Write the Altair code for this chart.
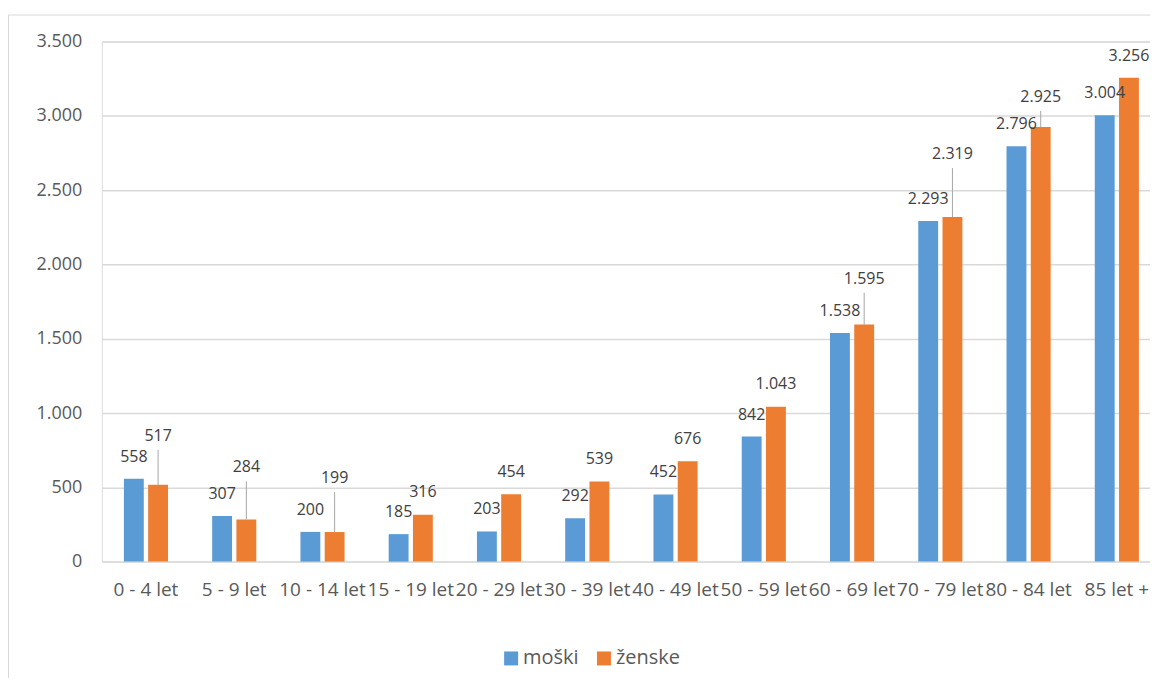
import altair as alt
import pandas as pd

# ---------------- data ----------------
categories = ["0 - 4 let", "5 - 9 let", "10 - 14 let", "15 - 19 let", "20 - 29 let",
              "30 - 39 let", "40 - 49 let", "50 - 59 let", "60 - 69 let", "70 - 79 let",
              "80 - 84 let", "85 let +"]
series = ["moški", "ženske"]
moski = [558, 307, 200, 185, 203, 292, 452, 842, 1538, 2293, 2796, 3004]
zenske = [517, 284, 199, 316, 454, 539, 676, 1043, 1595, 2319, 2925, 3256]
y_ticks = [0, 500, 1000, 1500, 2000, 2500, 3000, 3500]

# ---------------- styling ----------------
PLOT_W = 1050
PLOT_H = 521
Y_MAX = 3500
PX = Y_MAX / PLOT_H            # data units per pixel
BLUE = "#5B9BD5"
ORANGE = "#ED7D31"
FONT = "Open Sans"

# label lift (pixels above bar top) and leader-line flags for the female labels
male_lift = 22
female_lift = [49, 52, 54, 23, 22, 23, 22, 23, 46, 63, 30, 22]
female_leader = [True, True, True, False, False, False, False, False, True, True, True, False]


def fmt(v):
    return f"{v:,}".replace(",", ".")


rows = []
for i, c in enumerate(categories):
    rows.append({"category": c, "series": series[0], "value": moski[i],
                 "label": fmt(moski[i]), "label_y": moski[i] + male_lift * PX,
                 "leader": False, "leader_top": moski[i]})
    rows.append({"category": c, "series": series[1], "value": zenske[i],
                 "label": fmt(zenske[i]), "label_y": zenske[i] + female_lift[i] * PX,
                 "leader": female_leader[i],
                 "leader_top": zenske[i] + (female_lift[i] - 14) * PX})
df = pd.DataFrame(rows)
df_leader = df[df["leader"]].copy()

x_enc = alt.X("category:N", sort=categories,
              scale=alt.Scale(domain=categories, range=[0, 1061], paddingInner=0.5, paddingOuter=0.25),
              axis=alt.Axis(title=None, labelAngle=0, ticks=False, domain=False,
                            labelFont=FONT, labelFontSize=19, labelColor="#595959",
                            labelPadding=19, labelOverlap=False, labelLimit=0))
xo_enc = alt.XOffset("series:N", scale=alt.Scale(domain=series, paddingInner=0.18))
y_scale = alt.Scale(domain=[0, Y_MAX], nice=False)

bars = alt.Chart(df).mark_bar().encode(
    x=x_enc,
    xOffset=xo_enc,
    y=alt.Y("value:Q", scale=y_scale,
            axis=alt.Axis(title=None, values=y_ticks, ticks=False, domain=False,
                          labelExpr="replace(format(datum.value, ','), ',', '.')",
                          labelFont=FONT, labelFontSize=18, labelColor="#595959",
                          labelPadding=20, gridColor="#D9D9D9", gridWidth=1.5)),
    color=alt.Color("series:N", scale=alt.Scale(domain=series, range=[BLUE, ORANGE]),
                    legend=alt.Legend(title=None, orient="none", legendX=400, legendY=608,
                                      direction="horizontal", columns=2,
                                      symbolType="square", symbolSize=196, symbolStrokeWidth=0,
                                      symbolOpacity=1,
                                      labelFont=FONT, labelFontSize=20, labelColor="#595959",
                                      labelOffset=2, columnPadding=15)),
)

leaders = alt.Chart(df_leader).mark_rule(color="#A6A6A6", strokeWidth=1).encode(
    x=x_enc, xOffset=xo_enc,
    y=alt.Y("value:Q", scale=y_scale),
    y2="leader_top:Q",
)

labels = alt.Chart(df).mark_text(font=FONT, fontSize=16, color="#404040",
                                 baseline="middle", align="center").encode(
    x=x_enc, xOffset=xo_enc,
    y=alt.Y("label_y:Q", scale=y_scale),
    text="label:N",
)

frame = alt.Chart(pd.DataFrame({"f": [0]})).mark_rect(
    fillOpacity=0, stroke="#D9D9D9", strokeWidth=1).encode(
    x=alt.value(-93.5), x2=alt.value(1300), y=alt.value(-26.5), y2=alt.value(900))

chart = alt.layer(frame, bars, leaders, labels).properties(
    width=PLOT_W, height=PLOT_H,
    autosize=alt.AutoSizeParams(type="none"),
    padding={"left": 94, "top": 33, "right": 0, "bottom": 116},
).configure_view(strokeWidth=0).configure(background="white")

chart.save("out.html", embed_options={"renderer": "svg", "actions": False})
